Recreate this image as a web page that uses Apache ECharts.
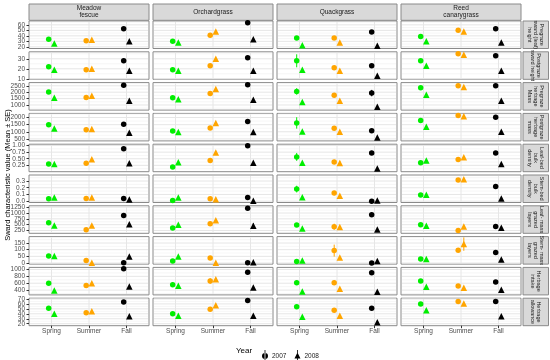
<!DOCTYPE html>
<html><head><meta charset="utf-8">
<script src="https://cdn.jsdelivr.net/npm/echarts@6/dist/echarts.min.js"></script>
<style>html,body{margin:0;padding:0;background:#fff}#c{width:550px;height:360px}</style>
</head><body><div id="c"></div>
<script>
// ---------- categories ----------
const seasons = ['Spring', 'Summer', 'Fall'];
const species = ['Meadow\nfescue', 'Orchardgrass', 'Quackgrass', 'Reed\ncanarygrass'];
const measures = [
  'Pregraze\nsward (leaf)\nheight', 'Postgraze\nsward height', 'Pregraze\nherbage\nMass',
  'Postgraze\nherbage\nmass', 'Leaf-bed\nbulk\ndensity', 'Stem-bed\nbulk\ndensity',
  'Leaf- mass\ngrazed\nlayers', 'Stem- mass\ngrazed\nlayers', 'Herbage\nintake', 'Herbage\nallowance'
];
const years = ['2007', '2008'];

// ---------- values (order: species x season) ----------
const preHeight07 = [34,31,53, 30,41,64, 36,36,47, 39,50,53];
const preHeight08 = [26,33,30, 28,48,34, 23,28,22, 30,48,28];
const postHeight07 = [22,19,28, 19,23,31, 28,21,23, 28,35,33];
const postHeight08 = [19,20,18, 18,30,18, 19,18,13, 23,34,18];
const preMass07 = [2010,1580,2535, 1556,1900,2590, 2060,1770,1930, 2350,2510,2510];
const preMass08 = [1556,1715,1340, 1450,2250,1400, 1240,1340,865, 1795,2410,1340];
const postMass07 = [1500,1150,1520, 1050,1260,1730, 1620,1240,1070, 1790,2140,2020];
const postMass08 = [1230,1190,930, 980,1610,980, 1020,1000,600, 1360,2090,1000];
const leafBD07 = [0.30,0.33,0.88, 0.19,0.43,0.99, 0.57,0.38,0.72, 0.35,0.47,0.72];
const leafBD08 = [0.30,0.48,0.33, 0.37,0.74,0.35, 0.35,0.34,0.13, 0.43,0.56,0.30];
const stemBD07 = [0.036,0.04,0.04, 0.01,0.036,0.056, 0.18,0.12,0.0, 0.09,0.315,0.22];
const stemBD08 = [0.056,0.056,0.026, 0.056,0.03,0.005, 0.06,0.08,0.01, 0.097,0.325,0.04];
const leafMass07 = [588,280,897, 353,545,1206, 486,412,927, 500,250,427];
const leafMass08 = [470,470,515, 500,690,456, 340,397,295, 456,427,368];
const stemMass07 = [52,19,3, 16,38,2, 11,93,0, 30,96,79];
const stemMass08 = [52,3,49, 49,3,5, 19,41,16, 30,142,27];
const intake07 = [597,537,1020, 557,665,921, 616,616,902, 665,518,636];
const intake08 = [390,597,508, 528,715,478, 360,440,350, 498,469,410];
const allow07 = [51,42,64, 40,49,67, 54,47,51, 60,65,65];
const allow08 = [40,45,35, 36,57.5,36, 34,36,23, 47,61,35];

// ---------- standard errors (visible ones) ----------
const zeroSE = [0,0,0, 0,0,0, 0,0,0, 0,0,0];
const postHeightSE07 = [0,0,0, 0,0,0, 6.5,1.5,0, 0,0,0];
const postHeightSE08 = [0,0,0, 0,0,0, 0,1.5,1, 0,0,0];
const preMassSE07 = [0,0,0, 0,0,0, 250,170,250, 0,0,0];
const postMassSE07 = [0,0,0, 0,0,0, 400,0,0, 0,0,0];
const leafBDSE07 = [0,0,0, 0,0,0, 0.15,0.08,0.08, 0,0,0];
const leafBDSE08 = [0,0,0, 0,0,0, 0,0.08,0, 0,0,0];
const stemBDSE07 = [0,0,0, 0,0,0, 0.05,0.03,0, 0,0.01,0];
const stemBDSE08 = [0,0,0, 0,0,0, 0,0.02,0, 0,0.015,0];
const leafMassSE07 = [0,0,0, 80,80,0, 0,130,90, 0,0,50];
const leafMassSE08 = [0,0,0, 0,0,100, 0,40,0, 0,60,60];
const stemMassSE07 = [0,0,0, 0,0,0, 0,45,0, 0,0,18];
const stemMassSE08 = [0,0,0, 0,0,0, 0,0,0, 0,50,0];
const intakeSE07 = [0,0,0, 60,80,0, 70,70,40, 0,0,0];
const allowSE07 = [0,0,0, 0,0,0, 4,3,4, 0,0,0];
const allowSE08 = [0,0,0, 0,0,0, 0,0,2, 0,0,0];

// ---------- axis scales / tick labels ----------
const yMin = [17, 9.5, 600, 360, 0.01, -0.02, 130, -8, 260, 16];
const yMax = [67, 37, 2750, 2290, 1.05, 0.39, 1310, 198, 1060, 71.5];
const yMajor = [[20,30,40,50,60],[10,20,30],[1000,1500,2000,2500],[500,1000,1500,2000],
  [0.25,0.5,0.75,1],[0,0.1,0.2,0.3],[250,500,750,1000,1250],[0,50,100,150],[400,600,800,1000],[20,30,40,50,60,70]];
const yMinor = [[25,35,45,55,65],[15,25,35],[750,1250,1750,2250],[750,1250,1750,2250],
  [0.125,0.375,0.625,0.875],[0.05,0.15,0.25,0.35],[375,625,875,1125],[25,75,125,175],[300,500,700,900],[25,35,45,55,65]];
const yDecimals = [0,0,0,0,2,1,0,0,0,0];

const v07 = [preHeight07, postHeight07, preMass07, postMass07, leafBD07, stemBD07, leafMass07, stemMass07, intake07, allow07];
const v08 = [preHeight08, postHeight08, preMass08, postMass08, leafBD08, stemBD08, leafMass08, stemMass08, intake08, allow08];
const se07 = [zeroSE, postHeightSE07, preMassSE07, postMassSE07, leafBDSE07, stemBDSE07, leafMassSE07, stemMassSE07, intakeSE07, allowSE07];
const se08 = [zeroSE, postHeightSE08, zeroSE, zeroSE, leafBDSE08, stemBDSE08, leafMassSE08, stemMassSE08, zeroSE, allowSE08];

// ---------- styles / layout ----------
const seasonColors = ['#00ee00', '#ffa500', '#000000'];
const dodge = 0.075;
const FONT = 'Liberation Sans, Arial, sans-serif';
const colLeft = j => 29 + j * 124;
const PW = 120;
const rowTop = i => 21 + i * 30.8;
const PH = 27.5;
const TICKFONT = 6.5;

const chart = echarts.init(document.getElementById('c'), null, {renderer: 'canvas'});
const grids = [], xAxes = [], yAxes = [], series = [], graphics = [];

for (let i = 0; i < measures.length; i++) {
  for (let j = 0; j < species.length; j++) {
    const k = i * species.length + j;
    grids.push({left: colLeft(j), top: rowTop(i), width: PW, height: PH, show: true,
      borderColor: '#8a8a8a', borderWidth: 1, backgroundColor: '#fff'});
    const bottom = i === measures.length - 1;
    xAxes.push({gridIndex: k, type: 'value', min: 0.4, max: 3.6,
      axisLine: {show: false}, splitLine: {show: false},
      axisTick: {show: bottom, customValues: [1,2,3], length: 2.5, lineStyle: {color: '#333', width: 1}},
      axisLabel: {show: bottom, customValues: [1,2,3], margin: 2, fontSize: TICKFONT, color: '#4d4d4d', fontFamily: FONT,
        formatter: v => seasons[Math.round(v) - 1]}});
    const dec = yDecimals[i];
    yAxes.push({gridIndex: k, type: 'value', min: yMin[i], max: yMax[i],
      axisLine: {show: false}, splitLine: {show: false},
      axisTick: {show: j === 0, customValues: yMajor[i], length: 2.5, lineStyle: {color: '#333', width: 1}},
      axisLabel: {show: false}});
    const major = yMajor[i], minor = yMinor[i];
    const showLabels = j === 0;
    // grid lines (+ y tick labels in the first column)
    series.push({type: 'custom', xAxisIndex: k, yAxisIndex: k, silent: true, z: 1, clip: false,
      data: [[2, (yMin[i] + yMax[i]) / 2]],
      renderItem: (params, api) => {
        const cs = params.coordSys;
        const kids = [];
        minor.forEach(v => {
          const y = api.coord([2, v])[1];
          kids.push({type: 'line', shape: {x1: cs.x + 1, y1: y, x2: cs.x + cs.width - 1, y2: y},
            style: {stroke: '#ececec', lineWidth: 0.5}});
        });
        major.forEach(v => {
          const y = api.coord([2, v])[1];
          kids.push({type: 'line', shape: {x1: cs.x + 1, y1: y, x2: cs.x + cs.width - 1, y2: y},
            style: {stroke: '#e6e6e6', lineWidth: 1}});
          if (showLabels) {
            kids.push({type: 'text', x: cs.x - 4, y: y,
              style: {text: v.toFixed(dec), fontSize: TICKFONT, fontFamily: FONT, fill: '#4d4d4d',
                align: 'right', verticalAlign: 'middle'}});
          }
        });
        [1,2,3].forEach(x => {
          const px = api.coord([x, yMin[i]])[0];
          kids.push({type: 'line', shape: {x1: px, y1: cs.y + 1, x2: px, y2: cs.y + cs.height - 1},
            style: {stroke: '#e6e6e6', lineWidth: 1}});
        });
        return {type: 'group', children: kids};
      }});
    // error bars
    const eb = [];
    seasons.forEach((s, si) => {
      const idx = j * 3 + si;
      const a = se07[i][idx], b = se08[i][idx];
      if (a > 0) eb.push([si + 1 - dodge, v07[i][idx] - a, v07[i][idx] + a, si]);
      if (b > 0) eb.push([si + 1 + dodge, v08[i][idx] - b, v08[i][idx] + b, si]);
    });
    series.push({type: 'custom', xAxisIndex: k, yAxisIndex: k, silent: true, z: 2,
      encode: {x: 0, y: [1, 2]}, data: eb,
      renderItem: (params, api) => {
        const p1 = api.coord([api.value(0), api.value(1)]);
        const p2 = api.coord([api.value(0), api.value(2)]);
        return {type: 'line', shape: {x1: p1[0], y1: p1[1], x2: p2[0], y2: p2[1]},
          style: {stroke: seasonColors[api.value(3)], lineWidth: 1}};
      }});
    // points
    const d07 = seasons.map((s, si) => ({value: [si + 1 - dodge, v07[i][j * 3 + si]], itemStyle: {color: seasonColors[si]}}));
    const d08 = seasons.map((s, si) => ({value: [si + 1 + dodge, v08[i][j * 3 + si]], itemStyle: {color: seasonColors[si]}}));
    series.push({type: 'scatter', name: years[0], xAxisIndex: k, yAxisIndex: k, z: 3, symbol: 'circle',
      symbolSize: 5.5, itemStyle: {color: '#000', opacity: 1}, data: d07, silent: true});
    series.push({type: 'scatter', name: years[1], xAxisIndex: k, yAxisIndex: k, z: 3, symbol: 'triangle',
      symbolSize: 6.5, itemStyle: {color: '#000', opacity: 1}, data: d08, silent: true});
  }
}

// column strips
species.forEach((s, j) => {
  graphics.push({type: 'rect', shape: {x: colLeft(j), y: 4, width: PW, height: 16.3},
    style: {fill: '#d9d9d9', stroke: '#8a8a8a', lineWidth: 1}});
  graphics.push({type: 'text', x: colLeft(j) + PW / 2, y: 12.2,
    style: {text: s, fontSize: 6.5, fontFamily: FONT, fill: '#1a1a1a', align: 'center', verticalAlign: 'middle', lineHeight: 7}});
});
// row strips
measures.forEach((m, i) => {
  graphics.push({type: 'rect', shape: {x: 523, y: rowTop(i), width: 25.5, height: PH},
    style: {fill: '#d9d9d9', stroke: '#8a8a8a', lineWidth: 1}});
  graphics.push({type: 'text', x: 535.7, y: rowTop(i) + PH / 2, rotation: -Math.PI / 2,
    style: {text: m, fontSize: 5.5, fontFamily: FONT, fill: '#1a1a1a', align: 'center', verticalAlign: 'middle', lineHeight: 6}});
});
// y title
graphics.push({type: 'text', x: 8, y: 175, rotation: Math.PI / 2,
  style: {text: 'Sward characteristic value (Mean ± SE)', fontSize: 7.5, fontFamily: FONT, fill: '#000', align: 'center', verticalAlign: 'middle'}});
// legend title
graphics.push({type: 'text', x: 236, y: 351,
  style: {text: 'Year', fontSize: 8, fontFamily: FONT, fill: '#000', align: 'left', verticalAlign: 'middle'}});

const iconCircle = 'path://M3.6,0L4.4,0L4.4,12L3.6,12Z M1,6A3,3 0 1 0 7,6A3,3 0 1 0 1,6Z';
const iconTri = 'path://M3.6,0L4.4,0L4.4,12L3.6,12Z M4,2.6L7,8.4L1,8.4Z';

chart.setOption({
  animation: false,
  grid: grids, xAxis: xAxes, yAxis: yAxes, series: series,
  graphic: graphics,
  legend: {left: 257, top: 345, orient: 'horizontal', itemWidth: 6, itemHeight: 12, itemGap: 8, selectedMode: false,
    textStyle: {fontSize: 6.5, fontFamily: FONT, color: '#1a1a1a', padding: [0, 0, 0, -1]},
    data: [{name: years[0], icon: iconCircle, itemStyle: {color: '#000'}}, {name: years[1], icon: iconTri, itemStyle: {color: '#000'}}]}
});
</script></body></html>
